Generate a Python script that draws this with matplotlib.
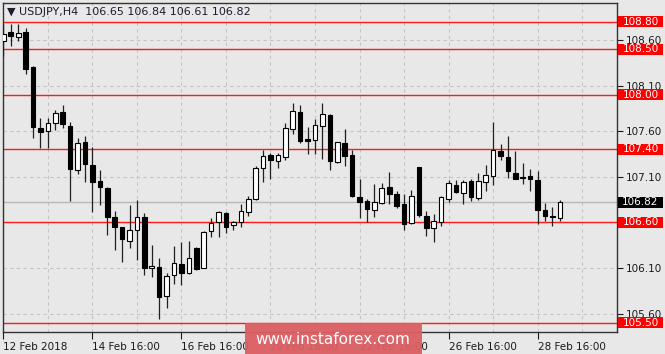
import numpy as np
import matplotlib
matplotlib.use("Agg")
import matplotlib.pyplot as plt
import matplotlib.ticker as ticker
from matplotlib.patches import Rectangle
from matplotlib.transforms import blended_transform_factory

# ---------------------------------------------------------------------------
# USDJPY H4 candles
# ---------------------------------------------------------------------------
opens = [108.59, 108.69, 108.63, 108.69, 108.30, 107.64, 107.60, 107.69, 107.81, 107.66,
         107.17, 107.48, 107.23, 107.05, 106.98, 106.66, 106.55, 106.40, 106.52, 106.66,
         106.10, 106.11, 105.79, 106.02, 106.14, 106.05, 106.32, 106.10, 106.50, 106.60,
         106.70, 106.57, 106.60, 106.71, 106.86, 107.20, 107.34, 107.27, 107.32, 107.62,
         107.81, 107.51, 107.50, 107.66, 107.78, 107.26, 107.47, 107.34, 106.88, 106.83,
         106.74, 106.81, 106.99, 106.91, 106.80, 106.59, 107.21, 106.67, 106.54, 106.60,
         106.86, 107.01, 106.92, 107.05, 106.87, 107.04, 107.11, 107.38, 107.32, 107.14,
         107.10, 107.11, 107.06, 106.74, 106.67, 106.65]
highs = [108.78, 108.78, 108.78, 108.73, 108.31, 107.74, 107.74, 107.83, 107.89, 107.70,
         107.52, 107.55, 107.43, 107.17, 106.99, 106.72, 106.55, 106.79, 106.85, 106.70,
         106.35, 106.21, 106.05, 106.34, 106.38, 106.40, 106.33, 106.51, 106.65, 106.72,
         106.71, 106.62, 106.80, 106.89, 107.22, 107.39, 107.36, 107.36, 107.69, 107.91,
         107.89, 107.65, 107.73, 107.91, 107.79, 107.48, 107.62, 107.39, 107.08, 106.86,
         107.02, 107.03, 107.15, 106.94, 106.91, 106.96, 107.21, 106.72, 106.69, 106.89,
         107.06, 107.06, 107.06, 107.07, 107.14, 107.23, 107.70, 107.46, 107.55, 107.38,
         107.25, 107.19, 107.16, 106.81, 106.77, 106.84]
lows = [108.42, 108.53, 108.59, 108.23, 107.53, 107.42, 107.41, 107.61, 107.63, 106.83,
        107.13, 107.04, 106.71, 106.79, 106.46, 106.30, 106.17, 106.32, 106.19, 106.02,
        106.00, 105.54, 105.66, 105.92, 105.91, 106.03, 106.08, 106.10, 106.44, 106.44,
        106.48, 106.52, 106.55, 106.67, 106.85, 107.04, 107.08, 107.20, 107.28, 107.57,
        107.47, 107.35, 107.35, 107.30, 107.17, 107.25, 107.22, 106.88, 106.65, 106.60,
        106.66, 106.80, 106.80, 106.76, 106.52, 106.58, 106.66, 106.45, 106.39, 106.56,
        106.82, 106.92, 106.80, 106.83, 106.85, 106.94, 107.01, 107.28, 107.09, 107.07,
        107.02, 106.94, 106.58, 106.61, 106.56, 106.61]
closes = [108.67, 108.64, 108.68, 108.28, 107.65, 107.59, 107.69, 107.80, 107.68, 107.18,
          107.47, 107.24, 107.04, 106.99, 106.66, 106.55, 106.42, 106.52, 106.66, 106.10,
          106.12, 105.78, 106.01, 106.15, 106.05, 106.21, 106.09, 106.49, 106.59, 106.71,
          106.55, 106.60, 106.72, 106.86, 107.20, 107.33, 107.28, 107.34, 107.63, 107.82,
          107.49, 107.49, 107.67, 107.79, 107.27, 107.48, 107.33, 106.89, 106.82, 106.75,
          106.82, 106.98, 106.91, 106.78, 106.58, 106.89, 106.68, 106.54, 106.61, 106.88,
          107.03, 106.93, 107.04, 106.88, 107.05, 107.12, 107.39, 107.33, 107.16, 107.08,
          107.09, 107.07, 106.74, 106.67, 106.66, 106.82]

# support / resistance levels drawn in red
levels = [108.80, 108.50, 108.00, 107.40, 106.60, 105.50]

# price axis ticks
price_ticks = [105.60, 106.10, 106.60, 107.10, 107.60, 108.10, 108.60]

# time axis labels (bar index -> label)
time_tick_idx = [0, 12, 24, 36, 48, 60, 72]
time_tick_labels = ["12 Feb 2018", "14 Feb 16:00", "16 Feb 16:00", "20 Feb 16:00",
                    "22 Feb 16:00", "26 Feb 16:00", "28 Feb 16:00"]

symbol = "USDJPY,H4"

# ---------------------------------------------------------------------------
# Plot
# ---------------------------------------------------------------------------
BG = "#e8e8e8"
RED = "#ff1a1a"
FS = 7.5

o = np.array(opens)
h = np.array(highs)
l = np.array(lows)
c = np.array(closes)
x = np.arange(len(o))

fig = plt.figure(figsize=(6.65, 3.54), dpi=100, facecolor=BG)
ax = fig.add_axes([3 / 665, 1 - 332 / 354, 614 / 665, 329 / 354])
ax.set_facecolor(BG)

# wicks + bodies
ax.vlines(x, l, h, color="#202020", linewidth=0.9, zorder=3)
up = c >= o
body_bottom = np.minimum(o, c)
body_height = np.maximum(np.abs(c - o), 0.004)
ax.bar(x, body_height, bottom=body_bottom, width=0.62,
       color=np.where(up, "white", "black"), edgecolor="black",
       linewidth=0.8, zorder=4)

# red levels
for lv in levels:
    ax.axhline(lv, color=RED, linewidth=1.0, zorder=2)

# current price line
last = closes[-1]
ax.axhline(last, color="#b8b8b8", linewidth=1.0, zorder=1.5)

ax.set_xlim(-0.05, 82.7)
ax.set_ylim(105.398, 109.005)

# axes / ticks
ax.yaxis.tick_right()
ax.set_yticks(price_ticks)
ax.yaxis.set_major_formatter(ticker.FuncFormatter(lambda v, _: f"{v:.2f}"))
ax.tick_params(axis="y", direction="out", length=4, width=0.8, pad=2,
               labelsize=FS, colors="#1a1a1a")

ax.set_xticks(time_tick_idx)
ax.set_xticklabels(time_tick_labels)
for lbl in ax.get_xticklabels():
    lbl.set_horizontalalignment("left")
ax.xaxis.set_minor_locator(ticker.MultipleLocator(6))
ax.tick_params(axis="x", which="major", direction="out", length=5, width=0.8,
               pad=2, labelsize=FS, colors="#1a1a1a")
ax.tick_params(axis="x", which="minor", length=0)

ax.grid(axis="x", which="both", linestyle=(0, (3, 3)), color="#c4c4c4", linewidth=0.8, zorder=0)
ax.grid(axis="y", which="major", linestyle=(0, (3, 3)), color="#c4c4c4", linewidth=0.8, zorder=0)
ax.set_axisbelow(True)

for s in ax.spines.values():
    s.set_color("#333333")
    s.set_linewidth(1.0)

# price labels on the right axis
tr = blended_transform_factory(ax.transAxes, ax.transData)
box_w = 45 / 614
box_h = 11 / 91.2
for lv in levels:
    ax.add_patch(Rectangle((1.0016, lv - box_h / 2), box_w, box_h, transform=tr,
                           facecolor="#ff0000", edgecolor="none", clip_on=False, zorder=10))
    ax.text(1.0016 + box_w / 2, lv, f"{lv:.2f}", transform=tr, ha="center", va="center",
            color="white", fontsize=FS, clip_on=False, zorder=11)
ax.add_patch(Rectangle((1.0016, last - box_h / 2), box_w, box_h, transform=tr,
                       facecolor="black", edgecolor="none", clip_on=False, zorder=10))
ax.text(1.0016 + box_w / 2, last, f"{last:.2f}", transform=tr, ha="center", va="center",
        color="white", fontsize=FS, clip_on=False, zorder=11)

# header
header = f"\u25BC {symbol}  {opens[-1]:.2f} {highs[-1]:.2f} {lows[-1]:.2f} {closes[-1]:.2f}"
ax.text(4 / 614, 1 - 9 / 329, header, transform=ax.transAxes, ha="left", va="center",
        fontsize=8, color="#1c1c30", zorder=12)

# watermark
fig.patches.append(Rectangle((245 / 665, 0), 177 / 665, 31 / 354, transform=fig.transFigure,
                             facecolor="#dc5e63", edgecolor="none", alpha=0.95, zorder=20))
fig.text(333 / 665, 1 - 340 / 354, "www.instaforex.com", ha="center", va="center",
         color="white", fontsize=11, zorder=21)

plt.savefig("out.png", dpi=100, facecolor=BG)
